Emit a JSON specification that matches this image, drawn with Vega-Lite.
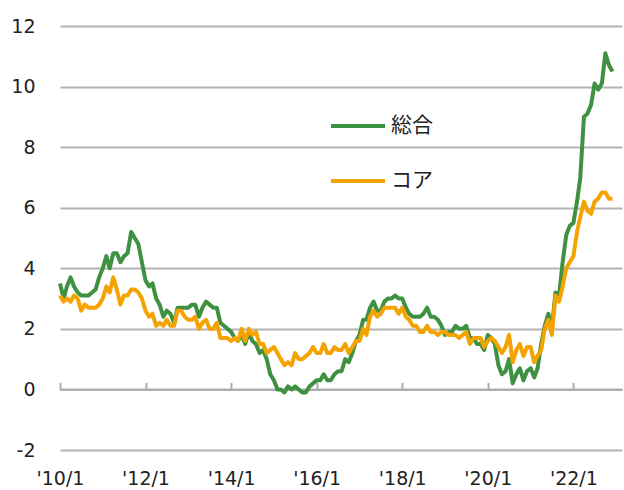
{
  "$schema": "https://vega.github.io/schema/vega-lite/v6.json",
  "width": 562,
  "height": 424,
  "autosize": "none",
  "padding": {"left": 60, "top": 26, "right": 2, "bottom": 40},
  "background": "white",
  "config": {"view": {"stroke": null}, "font": "DejaVu Sans"},
  "data": {"values": [
    {"d":"2010-01","総合":3.5,"コア":3.1},{"d":"2010-02","総合":3.0,"コア":2.9},{"d":"2010-03","総合":3.4,"コア":3.0},{"d":"2010-04","総合":3.7,"コア":2.9},{"d":"2010-05","総合":3.4,"コア":3.1},{"d":"2010-06","総合":3.2,"コア":3.0},{"d":"2010-07","総合":3.1,"コア":2.6},{"d":"2010-08","総合":3.1,"コア":2.8},{"d":"2010-09","総合":3.1,"コア":2.7},{"d":"2010-10","総合":3.2,"コア":2.7},{"d":"2010-11","総合":3.3,"コア":2.7},{"d":"2010-12","総合":3.7,"コア":2.8},
    {"d":"2011-01","総合":4.0,"コア":3.0},{"d":"2011-02","総合":4.4,"コア":3.4},{"d":"2011-03","総合":4.0,"コア":3.2},{"d":"2011-04","総合":4.5,"コア":3.7},{"d":"2011-05","総合":4.5,"コア":3.3},{"d":"2011-06","総合":4.2,"コア":2.8},{"d":"2011-07","総合":4.4,"コア":3.1},{"d":"2011-08","総合":4.5,"コア":3.1},{"d":"2011-09","総合":5.2,"コア":3.3},{"d":"2011-10","総合":5.0,"コア":3.3},{"d":"2011-11","総合":4.8,"コア":3.2},{"d":"2011-12","総合":4.2,"コア":3.0},
    {"d":"2012-01","総合":3.6,"コア":2.6},{"d":"2012-02","総合":3.4,"コア":2.4},{"d":"2012-03","総合":3.5,"コア":2.5},{"d":"2012-04","総合":3.0,"コア":2.1},{"d":"2012-05","総合":2.8,"コア":2.2},{"d":"2012-06","総合":2.4,"コア":2.1},{"d":"2012-07","総合":2.6,"コア":2.3},{"d":"2012-08","総合":2.5,"コア":2.1},{"d":"2012-09","総合":2.2,"コア":2.1},{"d":"2012-10","総合":2.7,"コア":2.6},{"d":"2012-11","総合":2.7,"コア":2.6},{"d":"2012-12","総合":2.7,"コア":2.4},
    {"d":"2013-01","総合":2.7,"コア":2.3},{"d":"2013-02","総合":2.8,"コア":2.3},{"d":"2013-03","総合":2.8,"コア":2.4},{"d":"2013-04","総合":2.4,"コア":2.0},{"d":"2013-05","総合":2.7,"コア":2.2},{"d":"2013-06","総合":2.9,"コア":2.3},{"d":"2013-07","総合":2.8,"コア":2.0},{"d":"2013-08","総合":2.7,"コア":2.0},{"d":"2013-09","総合":2.7,"コア":2.2},{"d":"2013-10","総合":2.2,"コア":1.7},{"d":"2013-11","総合":2.1,"コア":1.7},{"d":"2013-12","総合":2.0,"コア":1.7},
    {"d":"2014-01","総合":1.9,"コア":1.6},{"d":"2014-02","総合":1.7,"コア":1.7},{"d":"2014-03","総合":1.6,"コア":1.6},{"d":"2014-04","総合":1.8,"コア":2.0},{"d":"2014-05","総合":1.5,"コア":1.6},{"d":"2014-06","総合":1.9,"コア":2.0},{"d":"2014-07","総合":1.6,"コア":1.8},{"d":"2014-08","総合":1.5,"コア":1.9},{"d":"2014-09","総合":1.2,"コア":1.5},{"d":"2014-10","総合":1.3,"コア":1.5},{"d":"2014-11","総合":1.0,"コア":1.2},{"d":"2014-12","総合":0.5,"コア":1.3},
    {"d":"2015-01","総合":0.3,"コア":1.4},{"d":"2015-02","総合":0.0,"コア":1.2},{"d":"2015-03","総合":0.0,"コア":1.0},{"d":"2015-04","総合":-0.1,"コア":0.8},{"d":"2015-05","総合":0.1,"コア":0.9},{"d":"2015-06","総合":0.0,"コア":0.8},{"d":"2015-07","総合":0.1,"コア":1.2},{"d":"2015-08","総合":0.0,"コア":1.0},{"d":"2015-09","総合":-0.1,"コア":1.0},{"d":"2015-10","総合":-0.1,"コア":1.1},{"d":"2015-11","総合":0.1,"コア":1.2},{"d":"2015-12","総合":0.2,"コア":1.4},
    {"d":"2016-01","総合":0.3,"コア":1.2},{"d":"2016-02","総合":0.3,"コア":1.2},{"d":"2016-03","総合":0.5,"コア":1.5},{"d":"2016-04","総合":0.3,"コア":1.2},{"d":"2016-05","総合":0.3,"コア":1.2},{"d":"2016-06","総合":0.5,"コア":1.4},{"d":"2016-07","総合":0.6,"コア":1.3},{"d":"2016-08","総合":0.6,"コア":1.3},{"d":"2016-09","総合":1.0,"コア":1.5},{"d":"2016-10","総合":0.9,"コア":1.2},{"d":"2016-11","総合":1.2,"コア":1.4},{"d":"2016-12","総合":1.6,"コア":1.6},
    {"d":"2017-01","総合":1.8,"コア":1.6},{"d":"2017-02","総合":2.3,"コア":2.0},{"d":"2017-03","総合":2.3,"コア":1.8},{"d":"2017-04","総合":2.7,"コア":2.4},{"d":"2017-05","総合":2.9,"コア":2.6},{"d":"2017-06","総合":2.6,"コア":2.4},{"d":"2017-07","総合":2.6,"コア":2.5},{"d":"2017-08","総合":2.9,"コア":2.7},{"d":"2017-09","総合":3.0,"コア":2.7},{"d":"2017-10","総合":3.0,"コア":2.7},{"d":"2017-11","総合":3.1,"コア":2.7},{"d":"2017-12","総合":3.0,"コア":2.5},
    {"d":"2018-01","総合":3.0,"コア":2.7},{"d":"2018-02","総合":2.7,"コア":2.4},{"d":"2018-03","総合":2.5,"コア":2.3},{"d":"2018-04","総合":2.4,"コア":2.1},{"d":"2018-05","総合":2.4,"コア":2.1},{"d":"2018-06","総合":2.4,"コア":1.9},{"d":"2018-07","総合":2.5,"コア":1.9},{"d":"2018-08","総合":2.7,"コア":2.1},{"d":"2018-09","総合":2.4,"コア":1.9},{"d":"2018-10","総合":2.4,"コア":1.9},{"d":"2018-11","総合":2.3,"コア":1.8},{"d":"2018-12","総合":2.1,"コア":1.9},
    {"d":"2019-01","総合":1.8,"コア":1.9},{"d":"2019-02","総合":1.9,"コア":1.8},{"d":"2019-03","総合":1.9,"コア":1.8},{"d":"2019-04","総合":2.1,"コア":1.8},{"d":"2019-05","総合":2.0,"コア":1.7},{"d":"2019-06","総合":2.0,"コア":1.8},{"d":"2019-07","総合":2.1,"コア":1.9},{"d":"2019-08","総合":1.7,"コア":1.5},{"d":"2019-09","総合":1.7,"コア":1.7},{"d":"2019-10","総合":1.5,"コア":1.7},{"d":"2019-11","総合":1.5,"コア":1.7},{"d":"2019-12","総合":1.3,"コア":1.4},
    {"d":"2020-01","総合":1.8,"コア":1.6},{"d":"2020-02","総合":1.7,"コア":1.7},{"d":"2020-03","総合":1.5,"コア":1.6},{"d":"2020-04","総合":0.8,"コア":1.4},{"d":"2020-05","総合":0.5,"コア":1.2},{"d":"2020-06","総合":0.6,"コア":1.4},{"d":"2020-07","総合":1.0,"コア":1.8},{"d":"2020-08","総合":0.2,"コア":0.9},{"d":"2020-09","総合":0.5,"コア":1.3},{"d":"2020-10","総合":0.7,"コア":1.5},{"d":"2020-11","総合":0.3,"コア":1.1},{"d":"2020-12","総合":0.6,"コア":1.4},
    {"d":"2021-01","総合":0.7,"コア":1.4},{"d":"2021-02","総合":0.4,"コア":0.9},{"d":"2021-03","総合":0.7,"コア":1.1},{"d":"2021-04","総合":1.5,"コア":1.3},{"d":"2021-05","総合":2.1,"コア":2.0},{"d":"2021-06","総合":2.5,"コア":2.3},{"d":"2021-07","総合":2.0,"コア":1.8},{"d":"2021-08","総合":3.2,"コア":3.1},{"d":"2021-09","総合":3.1,"コア":2.9},{"d":"2021-10","総合":4.2,"コア":3.4},{"d":"2021-11","総合":5.1,"コア":4.0},{"d":"2021-12","総合":5.4,"コア":4.2},
    {"d":"2022-01","総合":5.5,"コア":4.4},{"d":"2022-02","総合":6.2,"コア":5.2},{"d":"2022-03","総合":7.0,"コア":5.7},{"d":"2022-04","総合":9.0,"コア":6.2},{"d":"2022-05","総合":9.1,"コア":5.9},{"d":"2022-06","総合":9.4,"コア":5.8},{"d":"2022-07","総合":10.1,"コア":6.2},{"d":"2022-08","総合":9.9,"コア":6.3},{"d":"2022-09","総合":10.1,"コア":6.5},{"d":"2022-10","総合":11.1,"コア":6.5},{"d":"2022-11","総合":10.7,"コア":6.3},{"d":"2022-12","総合":10.5,"コア":6.3}
  ]},
  "transform": [{"fold": ["総合", "コア"], "as": ["series", "value"]}],
  "mark": {"type": "line", "strokeWidth": 4, "strokeJoin": "round"},
  "encoding": {
    "x": {
      "field": "d", "type": "temporal",
      "scale": {"type": "utc", "domain": [{"year": 2010, "month": 1, "date": 1, "utc": true}, {"year": 2023, "month": 2, "date": 20, "utc": true}]},
      "axis": {
        "title": null, "orient": "bottom", "offset": -60.57,
        "domain": true, "domainColor": "#ADADAD", "domainWidth": 2,
        "ticks": true, "tickColor": "#ADADAD", "tickWidth": 2, "tickSize": -7,
        "grid": false,
        "values": [
          {"year": 2010, "month": 1, "date": 1, "utc": true},
          {"year": 2012, "month": 1, "date": 1, "utc": true},
          {"year": 2014, "month": 1, "date": 1, "utc": true},
          {"year": 2016, "month": 1, "date": 1, "utc": true},
          {"year": 2018, "month": 1, "date": 1, "utc": true},
          {"year": 2020, "month": 1, "date": 1, "utc": true},
          {"year": 2022, "month": 1, "date": 1, "utc": true}
        ],
        "format": "'%y/%-m",
        "labelFont": "DejaVu Sans", "labelFontSize": 19, "labelColor": "#222222",
        "labelPadding": 87, "labelFlush": false, "labelOverlap": false
      }
    },
    "y": {
      "field": "value", "type": "quantitative",
      "scale": {"domain": [-2, 12], "nice": false, "zero": false},
      "axis": {
        "title": null, "values": [-2, 0, 2, 4, 6, 8, 10, 12],
        "labelExpr": "'' + datum.value",
        "domain": false, "ticks": false, "tickSize": 0,
        "grid": true, "gridColor": "#B3B3B3", "gridWidth": 2,
        "labelFont": "DejaVu Sans", "labelFontSize": 19, "labelColor": "#222222",
        "labelPadding": 25
      }
    },
    "color": {
      "field": "series", "type": "nominal",
      "scale": {"domain": ["総合", "コア"], "range": ["#3F9142", "#F5A300"]},
      "legend": {
        "title": null, "orient": "none", "legendX": 269, "legendY": 71,
        "padding": 0, "symbolType": "stroke", "symbolSize": 2916, "symbolStrokeWidth": 4,
        "labelFont": "Noto Sans CJK JP", "labelFontSize": 21, "labelColor": "#222222",
        "labelOffset": 4, "rowPadding": 16
      }
    }
  }
}
